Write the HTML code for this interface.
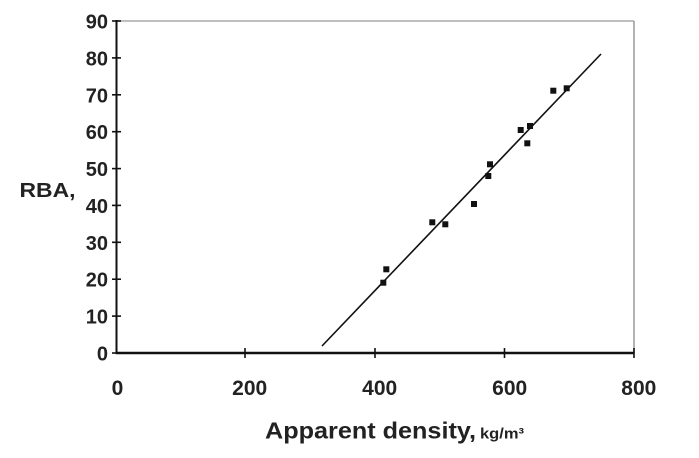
<!DOCTYPE html>
<html><head><meta charset="utf-8"><style>
html,body{margin:0;padding:0;background:#fff;}
svg{display:block;}
text{font-family:"Liberation Sans",Arial,sans-serif;font-weight:bold;fill:#222;}
</style></head><body>
<svg width="699" height="458" viewBox="0 0 699 458" xmlns="http://www.w3.org/2000/svg">
<rect width="699" height="458" fill="#fff"/>
<!-- frame -->
<line x1="116.5" y1="21" x2="634" y2="21" stroke="#aaa" stroke-width="1.5"/>
<line x1="634" y1="21" x2="634" y2="353" stroke="#999" stroke-width="1.5"/>
<!-- axes -->
<line x1="116.5" y1="20" x2="116.5" y2="354" stroke="#111" stroke-width="2"/>
<line x1="116" y1="353" x2="634" y2="353" stroke="#111" stroke-width="2.4"/>
<!-- y ticks -->
<g stroke="#111" stroke-width="1.6">
<line x1="112" y1="21" x2="121" y2="21"/>
<line x1="112" y1="57.9" x2="121" y2="57.9"/>
<line x1="112" y1="94.8" x2="121" y2="94.8"/>
<line x1="112" y1="131.7" x2="121" y2="131.7"/>
<line x1="112" y1="168.6" x2="121" y2="168.6"/>
<line x1="112" y1="205.4" x2="121" y2="205.4"/>
<line x1="112" y1="242.3" x2="121" y2="242.3"/>
<line x1="112" y1="279.2" x2="121" y2="279.2"/>
<line x1="112" y1="316.1" x2="121" y2="316.1"/>
<line x1="112" y1="353" x2="121" y2="353"/>
</g>
<!-- x ticks -->
<g stroke="#111" stroke-width="1.6">
<line x1="245" y1="348" x2="245" y2="358"/>
<line x1="375" y1="348" x2="375" y2="358"/>
<line x1="504.5" y1="348" x2="504.5" y2="358"/>
<line x1="634" y1="348" x2="634" y2="358"/>
</g>
<!-- y labels -->
<g font-size="20" text-anchor="end">
<text x="108" y="28.5">90</text>
<text x="108" y="65.4">80</text>
<text x="108" y="102.3">70</text>
<text x="108" y="139.2">60</text>
<text x="108" y="176.1">50</text>
<text x="108" y="212.9">40</text>
<text x="108" y="249.8">30</text>
<text x="108" y="286.7">20</text>
<text x="108" y="323.6">10</text>
<text x="108" y="360.5">0</text>
</g>
<text x="19.5" y="197" font-size="20" textLength="56" lengthAdjust="spacingAndGlyphs">RBA,</text>
<!-- x labels -->
<g font-size="21" text-anchor="middle">
<text x="117.5" y="395">0</text>
<text x="249.7" y="395">200</text>
<text x="379.7" y="395">400</text>
<text x="509.7" y="395">600</text>
<text x="638.8" y="395">800</text>
</g>
<text x="265" y="438.5" font-size="23" textLength="211" lengthAdjust="spacingAndGlyphs">Apparent density,</text>
<text x="480" y="438.5" font-size="15" textLength="44" lengthAdjust="spacingAndGlyphs">kg/m³</text>
<!-- regression line -->
<line x1="322" y1="346" x2="601" y2="54" stroke="#111" stroke-width="1.6"/>
<!-- points -->
<g fill="#111">
<rect x="383.3" y="266.3" width="6" height="6"/>
<rect x="380.3" y="279.7" width="6" height="6"/>
<rect x="429.3" y="219.3" width="6" height="6"/>
<rect x="442.3" y="221.3" width="6" height="6"/>
<rect x="471" y="201" width="6" height="6"/>
<rect x="485.3" y="173" width="6" height="6"/>
<rect x="487" y="161.3" width="6" height="6"/>
<rect x="517.7" y="127" width="6" height="6"/>
<rect x="527" y="123" width="6" height="6"/>
<rect x="524.3" y="140.3" width="6" height="6"/>
<rect x="550.3" y="87.7" width="6" height="6"/>
<rect x="563.7" y="85.3" width="6" height="6"/>
</g>
</svg>
</body></html>
